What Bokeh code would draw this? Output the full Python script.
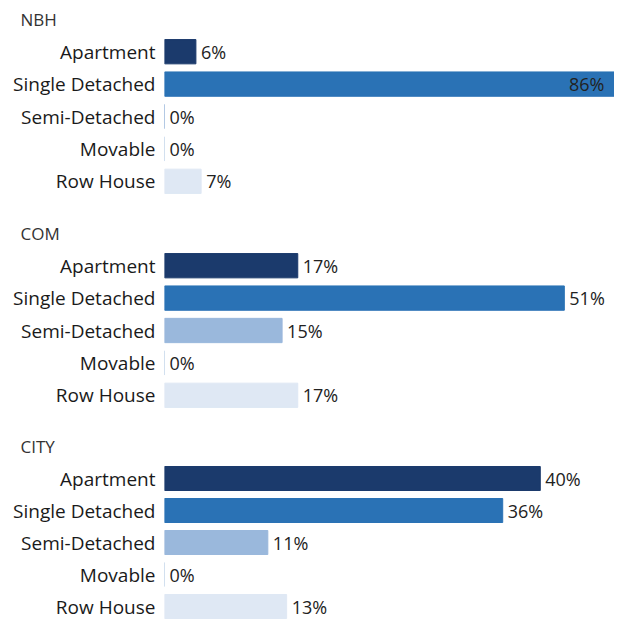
from bokeh.plotting import figure
from bokeh.layouts import column
from bokeh.models import ColumnDataSource, Range1d, Title
from bokeh.core.properties import value
from bokeh.embed import file_html
from bokeh.resources import INLINE

groups = ["NBH", "COM", "CITY"]
categories = ["Apartment", "Single Detached", "Semi-Detached", "Movable", "Row House"]
nbh_values = [6, 86, 0, 0, 7]
com_values = [17, 51, 15, 0, 17]
city_values = [40, 36, 11, 0, 13]
colors = ["#1b3a6c", "#2a72b5", "#9ab8dc", "#c3d5ea", "#dfe8f4"]
x_max = [86, 57.4, 47.9]

FONT = "Open Sans"
W = 614
heights = [214, 213, 195]
bottoms = [17, 16, 0]

figs = []
for gi, (name, vals) in enumerate(zip(groups, [nbh_values, com_values, city_values])):
    p = figure(y_range=list(reversed(categories)), x_range=Range1d(0, x_max[gi]),
               width=W, height=heights[gi], output_backend="svg", toolbar_location=None,
               min_border_left=164, min_border_right=0, min_border_top=0,
               min_border_bottom=bottoms[gi])
    t = Title(text=name, align="left", offset=-144, text_font=FONT,
              text_font_size="17px", text_font_style="normal", text_color="#333333",
              standoff=10)
    p.add_layout(t, "above")
    labels = [f"{v}%" for v in vals]
    inside = [v >= 0.9 * x_max[gi] for v in vals]
    src = ColumnDataSource(dict(cat=categories, val=vals, color=colors, lab=labels))
    p.hbar(y="cat", right="val", left=0, height=0.75, fill_color="color",
           line_color="color", line_width=1, source=src)
    out_idx = [i for i in range(5) if not inside[i]]
    in_idx = [i for i in range(5) if inside[i]]
    if out_idx:
        s1 = ColumnDataSource(dict(cat=[categories[i] for i in out_idx],
                                   val=[vals[i] for i in out_idx],
                                   lab=[labels[i] for i in out_idx]))
        p.text(x="val", y="cat", text="lab", source=s1, x_offset=5,
               text_align="left", text_baseline="middle", text_font=value(FONT),
               text_font_size="18px", text_color="#222222")
    if in_idx:
        s2 = ColumnDataSource(dict(cat=[categories[i] for i in in_idx],
                                   val=[vals[i] for i in in_idx],
                                   lab=[labels[i] for i in in_idx]))
        p.text(x="val", y="cat", text="lab", source=s2, x_offset=-10,
               text_align="right", text_baseline="middle", text_font=value(FONT),
               text_font_size="18px", text_color="#222222")
    p.xaxis.visible = False
    p.xgrid.visible = False
    p.ygrid.visible = False
    p.outline_line_color = None
    p.y_range.range_padding = 0
    ax = p.yaxis[0]
    ax.axis_line_color = None
    ax.major_tick_line_color = None
    ax.minor_tick_line_color = None
    ax.major_label_standoff = 3
    ax.major_label_text_font = FONT
    ax.major_label_text_font_size = "19px"
    ax.major_label_text_color = "#1a1a1a"
    figs.append(p)

layout = column(*figs, spacing=0)
open("out.html", "w").write(file_html(layout, INLINE))
